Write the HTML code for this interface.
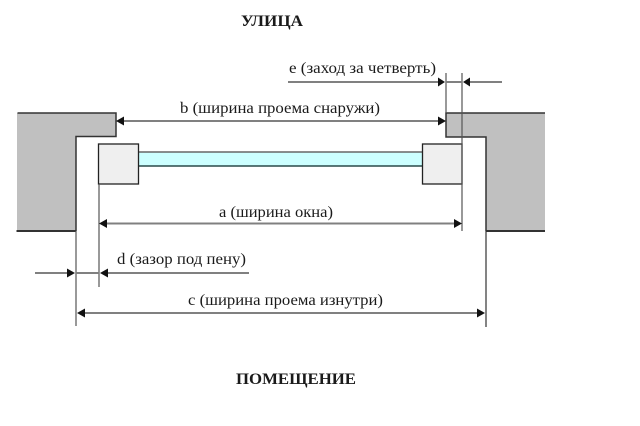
<!DOCTYPE html>
<html><head><meta charset="utf-8"><style>
html,body{margin:0;padding:0;background:#fff;width:640px;height:426px;overflow:hidden}
svg{display:block}
text{font-family:"Liberation Serif","DejaVu Serif",serif;fill:#1a1a1a}
</style></head><body>
<svg width="640" height="426" viewBox="0 0 640 426" xmlns="http://www.w3.org/2000/svg">
<rect width="640" height="426" fill="#fff"/>
<!-- walls -->
<polygon points="17,113 116,113 116,136.500 76,136.500 76,231 17,231" fill="#c0c0c0"/>
<polygon points="446,113 545,113 545,231 486,231 486,137 446,137" fill="#c0c0c0"/>
<g fill="none" stroke="#333" stroke-width="1.500">
<path d="M17.500 113H116V136.500H76V231"/>
<path d="M16.500 231H76" stroke-width="2"/>
<path d="M545 113H446V137H486V231"/>
<path d="M486 231H545" stroke-width="2"/>
</g>
<!-- window -->
<rect x="138" y="152" width="285" height="14" fill="#ccffff"/>
<path d="M138 152H423" stroke="#666" stroke-width="1.500"/>
<path d="M138 166H423" stroke="#2a4a4a" stroke-width="1.500"/>
<rect x="98.500" y="144" width="40" height="40" fill="#efefef" stroke="#222" stroke-width="1.300"/>
<rect x="422.500" y="144" width="39.500" height="40" fill="#efefef" stroke="#222" stroke-width="1.300"/>
<!-- extension lines -->
<g stroke="#555" stroke-width="1.200" fill="none">
<path d="M76 231V326"/>
<path d="M99 184V287"/>
<path d="M486 231V327" stroke="#333"/>
<path d="M446 73V113"/>
<path d="M462 73V231"/>
</g>
<!-- dimension lines -->
<g stroke="#808080" stroke-width="2" fill="none">
<path d="M120 121H442"/>
<path d="M104 223.500H457"/>
<path d="M35 273H72"/>
<path d="M76 273H99"/>
<path d="M104 273H249"/>
<path d="M288 82H442"/>
<path d="M446 82H462"/>
<path d="M468 82H502"/>
<path d="M81 313H481"/>
</g>
<!-- arrowheads -->
<g fill="#111">
<polygon points="116,121 124,116.500 124,125.500"/>
<polygon points="446,121 438,116.500 438,125.500"/>
<polygon points="99,223.500 107,219 107,228"/>
<polygon points="462,223.500 454,219 454,228"/>
<polygon points="75,273 67,268.500 67,277.500"/>
<polygon points="100,273 108,268.500 108,277.500"/>
<polygon points="445,82 438,77.500 438,86.500"/>
<polygon points="463,82 470,77.500 470,86.500"/>
<polygon points="77,313 85,308.500 85,317.500"/>
<polygon points="485,313 477,308.500 477,317.500"/>
</g>
<!-- labels -->
<text x="241" y="26" font-size="16" font-weight="bold" textLength="62" lengthAdjust="spacingAndGlyphs">УЛИЦА</text>
<text x="236" y="384" font-size="16" font-weight="bold" textLength="120" lengthAdjust="spacingAndGlyphs">ПОМЕЩЕНИЕ</text>
<text x="289" y="73" font-size="16" textLength="147" lengthAdjust="spacingAndGlyphs">e (заход за четверть)</text>
<text x="180" y="113" font-size="16" textLength="200" lengthAdjust="spacingAndGlyphs">b (ширина проема снаружи)</text>
<text x="219" y="217" font-size="16" textLength="114" lengthAdjust="spacingAndGlyphs">a (ширина окна)</text>
<text x="117" y="264" font-size="16" textLength="129" lengthAdjust="spacingAndGlyphs">d (зазор под пену)</text>
<text x="188" y="305" font-size="16" textLength="195" lengthAdjust="spacingAndGlyphs">c (ширина проема изнутри)</text>
</svg>
</body></html>
